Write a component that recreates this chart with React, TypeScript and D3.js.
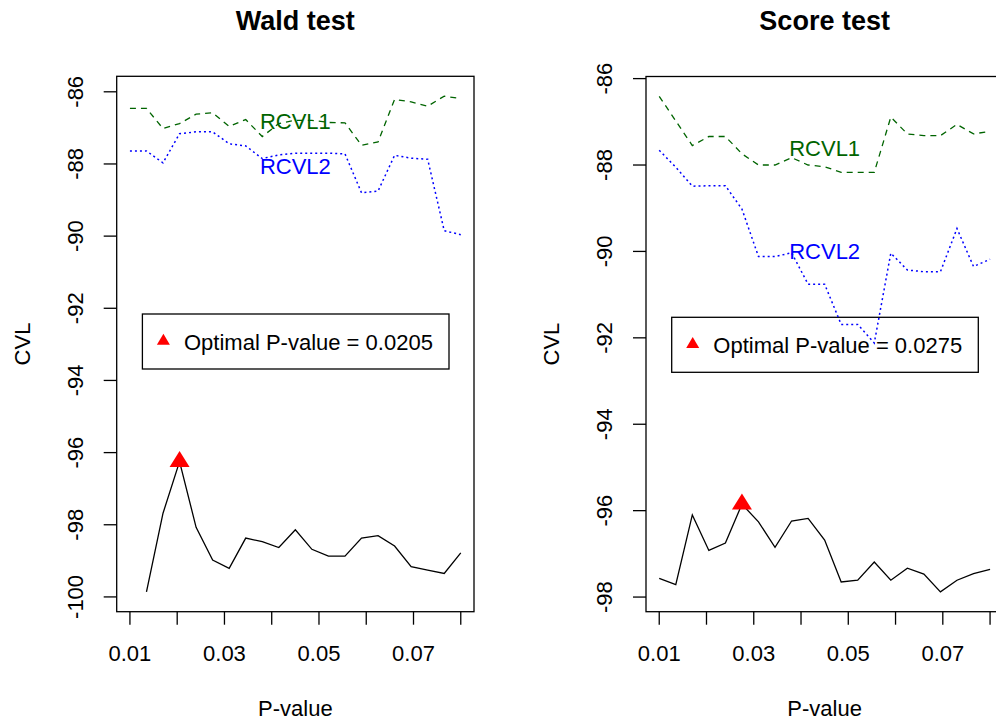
import React from "react";
import * as d3 from "d3";

// P-value grid shared by both panels
const pValues = [
  0.01, 0.0135, 0.017, 0.0205, 0.024, 0.0275, 0.031, 0.0345, 0.038, 0.0415, 0.045,
  0.0485, 0.052, 0.0555, 0.059, 0.0625, 0.066, 0.0695, 0.073, 0.0765, 0.08,
];

// Wald test series (null = not computed)
const waldCVL = [
  null, -99.86, -97.68, -96.25, -98.07, -98.98, -99.21, -98.37, -98.47, -98.63, -98.14,
  -98.68, -98.87, -98.87, -98.37, -98.3, -98.59, -99.16, -99.26, -99.35, -98.78,
];
const waldRCVL1 = [
  -86.46, -86.46, -87.02, -86.88, -86.62, -86.58, -86.96, -86.77, -87.24, -86.88, -86.79,
  -86.79, -86.85, -86.86, -87.48, -87.39, -86.21, -86.28, -86.4, -86.12, -86.19,
];
const waldRCVL2 = [
  -87.64, -87.64, -87.97, -87.16, -87.11, -87.11, -87.44, -87.5, -87.85, -87.75, -87.7,
  -87.7, -87.7, -87.72, -88.8, -88.75, -87.76, -87.84, -87.87, -89.85, -89.96,
];

// Score test series
const scoreCVL = [
  -97.57, -97.71, -96.1, -96.92, -96.75, -95.85, -96.26, -96.85, -96.24, -96.18, -96.68,
  -97.65, -97.61, -97.19, -97.61, -97.33, -97.47, -97.88, -97.61, -97.46, -97.36,
];
const scoreRCVL1 = [
  -86.41, -86.98, -87.55, -87.34, -87.34, -87.74, -88.0, -88.0, -87.83, -88.0, -88.04,
  -88.17, -88.17, -88.17, -86.89, -87.28, -87.32, -87.32, -87.06, -87.28, -87.22,
];
const scoreRCVL2 = [
  -87.66, -88.05, -88.49, -88.48, -88.48, -89.02, -90.12, -90.12, -90.03, -90.76, -90.76,
  -91.69, -91.69, -92.12, -90.04, -90.43, -90.47, -90.47, -89.47, -90.35, -90.18,
];

const titles = ["Wald test", "Score test"];
const optimalP = [0.0205, 0.0275];
const xTicks = [0.01, 0.02, 0.03, 0.04, 0.05, 0.06, 0.07, 0.08];
const xTickLabels = ["0.01", "", "0.03", "", "0.05", "", "0.07", ""];
const waldYTicks = [-86, -88, -90, -92, -94, -96, -98, -100];
const scoreYTicks = [-86, -88, -90, -92, -94, -96, -98];
const waldLabelPos = [
  { name: "RCVL1", p: 0.045, v: -86.8 },
  { name: "RCVL2", p: 0.045, v: -88.05 },
];
const scoreLabelPos = [
  { name: "RCVL1", p: 0.045, v: -87.6 },
  { name: "RCVL2", p: 0.045, v: -90.0 },
];

const FONT = "'Liberation Sans', Arial, Helvetica, sans-serif";
const GREEN = "#006400";
const BLUE = "#0000ff";

type PanelProps = {
  left: number;
  top: number;
  width: number;
  height: number;
  title: string;
  cvl: (number | null)[];
  rcvl1: number[];
  rcvl2: number[];
  yTicks: number[];
  labels: { name: string; p: number; v: number }[];
  optimal: number;
  legendTop: number;
};

function pad(ext: [number, number]): [number, number] {
  const d = (ext[1] - ext[0]) * 0.04;
  return [ext[0] - d, ext[1] + d];
}

function Panel(props: PanelProps) {
  const { left, top, width, height, title, cvl, rcvl1, rcvl2, yTicks, labels, optimal, legendTop } = props;
  const xExt = d3.extent(pValues) as [number, number];
  const allY = [...(cvl.filter((v) => v !== null) as number[]), ...rcvl1, ...rcvl2];
  const yExt = d3.extent(allY) as [number, number];
  const x = d3.scaleLinear().domain(pad(xExt)).range([left, left + width]);
  const y = d3.scaleLinear().domain(pad(yExt)).range([top + height, top]);

  const line = d3
    .line<[number, number | null]>()
    .defined((d) => d[1] !== null)
    .x((d) => x(d[0]))
    .y((d) => y(d[1] as number));

  const pts = (vals: (number | null)[]) => pValues.map((p, i) => [p, vals[i]] as [number, number | null]);
  const optIdx = pValues.indexOf(optimal);
  const optVal = cvl[optIdx] as number;
  const bottom = top + height;
  const tri = (cx: number, cy: number, w: number, h: number) =>
    `M${cx},${cy - (2 * h) / 3}L${cx + w / 2},${cy + h / 3}L${cx - w / 2},${cy + h / 3}Z`;
  const cx = left + width / 2;
  const legendLeft = left + 25.7;

  return (
    <g fontFamily={FONT}>
      <text x={cx} y={30} textAnchor="middle" fontWeight="bold" fontSize={27}>
        {title}
      </text>
      <rect x={left} y={top} width={width} height={height} fill="none" stroke="#000" strokeWidth={1.3} />
      {/* x axis */}
      {xTicks.map((t, i) => (
        <g key={"x" + i}>
          <line x1={x(t)} x2={x(t)} y1={bottom} y2={bottom + 13} stroke="#000" strokeWidth={1.3} />
          {xTickLabels[i] && (
            <text x={x(t)} y={bottom + 49} textAnchor="middle" fontSize={22}>
              {xTickLabels[i]}
            </text>
          )}
        </g>
      ))}
      <text x={cx} y={716} textAnchor="middle" fontSize={22}>
        P-value
      </text>
      {/* y axis */}
      {yTicks.map((t, i) => (
        <g key={"y" + i}>
          <line x1={left - 13} x2={left} y1={y(t)} y2={y(t)} stroke="#000" strokeWidth={1.3} />
          <text
            transform={`translate(${left - 34},${y(t)}) rotate(-90)`}
            textAnchor="middle"
            fontSize={22}
          >
            {t}
          </text>
        </g>
      ))}
      <text
        transform={`translate(${left - 87},${top + height / 2}) rotate(-90)`}
        textAnchor="middle"
        fontSize={22}
      >
        CVL
      </text>
      {/* legend (transparent box, series stay visible through it) */}
      <rect x={legendLeft} y={legendTop} width={306.6} height={55} fill="none" stroke="#000" strokeWidth={1.3} />
      <path d={tri(legendLeft + 21, legendTop + 27, 13, 11)} fill="#ff0000" />
      <text x={legendLeft + 41.6} y={legendTop + 35.5} fontSize={22}>
        {`Optimal P-value = ${optimal}`}
      </text>
      {/* series */}
      <path d={line(pts(rcvl1)) || ""} fill="none" stroke={GREEN} strokeWidth={1.3} strokeDasharray="6,5" />
      <path d={line(pts(rcvl2)) || ""} fill="none" stroke={BLUE} strokeWidth={1.5} strokeDasharray="2,3" />
      <path d={line(pts(cvl)) || ""} fill="none" stroke="#000" strokeWidth={1.3} />
      <path d={tri(x(optimal), y(optVal), 20, 16)} fill="#ff0000" />
      {labels.map((l) => (
        <text
          key={l.name}
          x={x(l.p)}
          y={y(l.v)}
          dy="0.36em"
          textAnchor="middle"
          fontSize={22}
          fill={l.name === "RCVL1" ? GREEN : BLUE}
        >
          {l.name}
        </text>
      ))}
    </g>
  );
}

export default function App() {
  return (
    <svg
      width={996}
      height={725}
      style={{ position: "absolute", left: 0, top: 0, background: "#fff" }}
    >
      <rect x={0} y={0} width={996} height={725} fill="#fff" />
      <Panel
        left={116.7}
        top={76.3}
        width={357.3}
        height={535.4}
        title={titles[0]}
        cvl={waldCVL}
        rcvl1={waldRCVL1}
        rcvl2={waldRCVL2}
        yTicks={waldYTicks}
        labels={waldLabelPos}
        optimal={optimalP[0]}
        legendTop={314}
      />
      <Panel
        left={646}
        top={76.5}
        width={357.3}
        height={535.2}
        title={titles[1]}
        cvl={scoreCVL}
        rcvl1={scoreRCVL1}
        rcvl2={scoreRCVL2}
        yTicks={scoreYTicks}
        labels={scoreLabelPos}
        optimal={optimalP[1]}
        legendTop={317.3}
      />
    </svg>
  );
}
